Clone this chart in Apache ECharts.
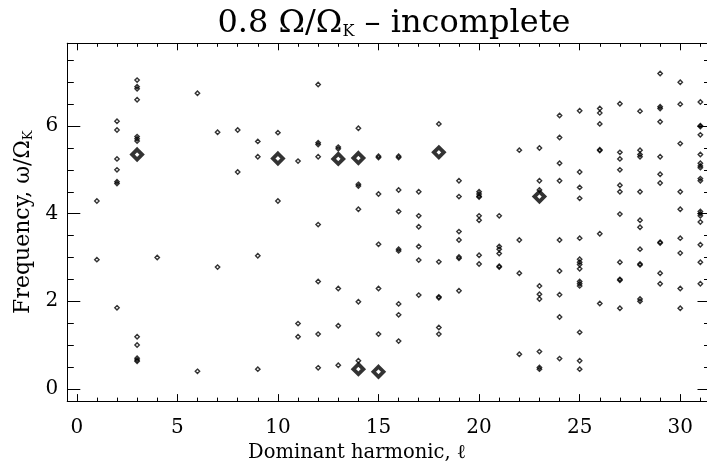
<!DOCTYPE html>
<html>
<head>
<meta charset="utf-8">
<script src="https://cdn.jsdelivr.net/npm/echarts@6/dist/echarts.min.js"></script>
<style>
html,body{margin:0;padding:0;background:#fff;}
#c{width:707px;height:468px;}
</style>
</head>
<body>
<div id="c"></div>
<script>
// ---- data ----
const smallL = [
 1,1,
 2,2,2,2,2,2,2,
 3,3,3,3,3,3,3,3,3,3,3,3,
 4,
 6,6,
 7,7,
 8,8,
 9,9,9,9,
 10,10,
 11,11,11,
 12,12,12,12,12,12,12,12,
 13,13,13,13,13,
 14,14,14,14,14,14,
 15,15,15,15,15,15,
 16,16,16,16,16,16,16,16,16,
 17,17,17,17,17,17,
 18,18,18,18,18,18,
 19,19,19,19,19,19,19,
 20,20,20,20,20,20,20,20,
 21,21,21,21,21,21,
 22,22,22,22,
 23,23,23,23,23,23,23,23,23,
 24,24,24,24,24,24,24,24,24,
 25,25,25,25,25,25,25,25,25,25,25,25,25,25,25,
 26,26,26,26,26,26,26,
 27,27,27,27,27,27,27,27,27,27,27,
 28,28,28,28,28,28,28,28,28,28,28,28,
 29,29,29,29,29,29,29,29,29,29,29,
 30,30,30,30,30,30,30,30,30,
 31,31,31,31,31,31,31,31,31,31,31,31,31,31,31,31,31
];
const smallW = [
 4.29,2.95,
 6.11,5.91,5.25,5.0,4.73,4.69,1.85,
 7.05,6.9,6.85,6.6,5.76,5.71,5.66,1.19,1.0,0.70,0.66,0.63,
 3.0,
 6.75,0.40,
 5.86,2.78,
 5.91,4.95,
 5.65,5.30,3.04,0.45,
 5.85,4.29,
 5.2,1.49,1.19,
 6.95,5.62,5.58,5.30,3.75,2.45,1.25,0.48,
 5.52,5.48,2.29,1.44,0.54,
 5.95,4.67,4.63,4.10,1.99,0.64,
 5.31,5.28,4.45,3.30,2.29,1.25,
 5.31,5.28,4.54,4.05,3.19,3.15,1.94,1.69,1.09,
 4.5,3.95,3.70,3.25,2.94,2.14,
 6.05,2.90,2.10,2.08,1.40,1.25,
 4.75,4.39,3.59,3.40,3.01,2.98,2.24,
 4.5,4.45,4.40,4.38,3.95,3.85,3.05,2.85,
 3.95,3.25,3.19,3.09,2.80,2.78,
 5.45,3.40,2.64,0.79,
 5.50,4.75,4.54,2.35,2.16,2.05,0.85,0.49,0.45,
 6.24,5.74,5.15,4.75,3.40,2.69,2.15,1.64,0.69,
 6.35,4.95,4.60,4.35,3.44,2.96,2.89,2.84,2.74,2.45,2.40,2.35,1.29,0.64,0.45,
 6.40,6.30,6.05,5.46,5.44,3.54,1.95,
 6.51,5.40,5.25,5.0,4.65,4.50,3.99,2.89,2.50,2.48,1.84,
 6.34,5.45,5.35,5.30,4.50,3.85,3.69,3.19,2.85,2.83,2.05,2.0,
 7.2,6.44,6.40,6.10,5.30,4.90,4.70,3.35,3.33,2.64,2.40,
 7.0,6.5,5.6,4.5,4.10,3.44,3.10,2.29,1.84,
 6.55,6.01,5.99,5.8,5.35,5.15,5.09,5.05,4.8,4.75,4.05,4.0,3.95,3.81,3.29,2.89,2.40
];
const bigL = [3, 10, 13, 14, 18, 23, 14, 15];
const bigW = [5.35, 5.26, 5.25, 5.27, 5.40, 4.39, 0.45, 0.39];

const xMajorTicks = [0,5,10,15,20,25,30];
const xMinorTicks = [0,1,2,3,4,5,6,7,8,9,10,11,12,13,14,15,16,17,18,19,20,21,22,23,24,25,26,27,28,29,30,31];
const yMajorTicks = [0,2,4,6];
const yMinorTicks = [0,0.5,1,1.5,2,2.5,3,3.5,4,4.5,5,5.5,6,6.5,7,7.5];

const titleText = '0.8 Ω/Ω{sub|K} – incomplete';
const xName = 'Dominant harmonic, ℓ';
const yName = 'Frequency, ω/Ω{sub|K}';

// ---- chart ----
const FONT = 'DejaVu Serif';
// the plot frame continues slightly past the right edge of the picture;
// the canvas edge corresponds to l = 31.33
const X_MIN = -0.47, X_MAX = 31.33, Y_MIN = -0.28, Y_MAX = 7.89;
const lineStyle = {color:'#000', width:1};

function xAxisDef(pos, ticks, len, main){
  return {
    type:'value', position:pos, min:X_MIN, max:X_MAX,
    axisLine:{show:true, onZero:false, lineStyle},
    axisTick:{show:true, inside:true, length:len, customValues:ticks, lineStyle},
    axisLabel:{show:main, customValues:ticks, margin:17, color:'#000', fontFamily:FONT, fontSize:20},
    splitLine:{show:false},
    name: main ? xName : '', nameLocation:'middle', nameGap:40,
    nameTextStyle:{color:'#000', fontFamily:FONT, fontSize:19.5, padding:[0,60,0,0]}
  };
}
function yAxisDef(pos, ticks, len, main, showLine){
  return {
    type:'value', position:pos, min:Y_MIN, max:Y_MAX,
    axisLine:{show:showLine, onZero:false, lineStyle},
    axisTick:{show:true, inside:true, length:len, customValues:ticks, lineStyle},
    axisLabel:{show:main, customValues:ticks, margin:9, color:'#000', fontFamily:FONT, fontSize:20},
    splitLine:{show:false},
    name: main ? yName : '', nameLocation:'middle', nameGap:30, nameRotate:90,
    nameTextStyle:{color:'#000', fontFamily:FONT, fontSize:22,
      rich:{sub:{fontFamily:FONT, fontSize:13, verticalAlign:'bottom', padding:[10,0,0,0], color:'#000'}}}
  };
}

const smallData = smallL.map((l,i)=>[l, smallW[i]]);
const bigData = bigL.map((l,i)=>[l, bigW[i]]);

const chart = echarts.init(document.getElementById('c'), null, {renderer:'canvas'});
chart.setOption({
  animation:false,
  backgroundColor:'#fff',
  title:{
    text:titleText, left:389, top:3, textAlign:'center',
    textStyle:{color:'#000', fontFamily:FONT, fontSize:32, fontWeight:'normal',
      rich:{sub:{fontFamily:FONT, fontSize:16, color:'#000', padding:[16,0,0,0], verticalAlign:'bottom'}}}
  },
  grid:{left:67.3, right:0, top:43.3, bottom:64, containLabel:false},
  xAxis:[
    xAxisDef('bottom', xMajorTicks, 7, true),
    xAxisDef('bottom', xMinorTicks, 3.5, false),
    xAxisDef('top', xMajorTicks, 7, false),
    xAxisDef('top', xMinorTicks, 3.5, false)
  ],
  yAxis:[
    yAxisDef('left', yMajorTicks, 13, true, true),
    yAxisDef('left', yMinorTicks, 6.5, false, true),
    yAxisDef('right', yMajorTicks, 9.5, false, false),
    yAxisDef('right', yMinorTicks, 3, false, false)
  ],
  series:[
    {type:'scatter', xAxisIndex:0, yAxisIndex:0, data:smallData, symbol:'diamond', symbolSize:4.4,
     itemStyle:{color:'rgba(0,0,0,0)', borderColor:'#000', borderWidth:1.4}, silent:true},
    {type:'scatter', xAxisIndex:0, yAxisIndex:0, data:bigData, symbol:'diamond', symbolSize:10,
     itemStyle:{color:'rgba(0,0,0,0)', borderColor:'#000', borderWidth:3.8}, silent:true}
  ]
});
</script>
</body>
</html>
